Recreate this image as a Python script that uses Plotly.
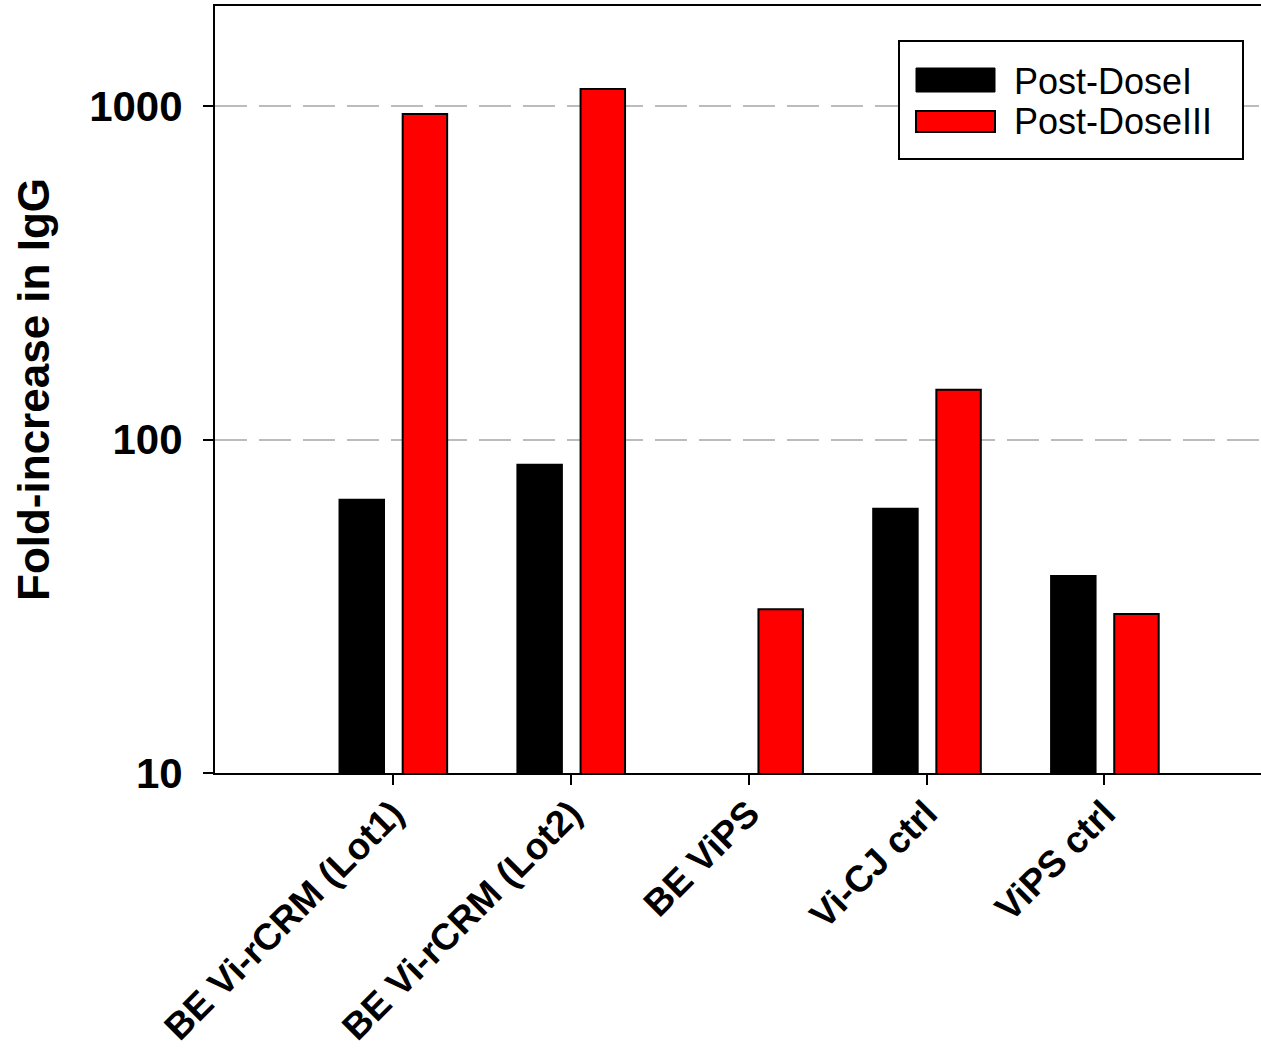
import plotly.graph_objects as go

# Fold-increase in IgG per vaccine group
groups = ["BE Vi-rCRM (Lot1)", "BE Vi-rCRM (Lot2)", "BE ViPS", "Vi-CJ ctrl", "ViPS ctrl"]
post_dose_1 = [66, 84, None, 62, 39]
post_dose_3 = [946, 1125, 31, 141, 30]
y_ticks = [10, 100, 1000]
y_tick_text = ["10", "100", "1000"]

FONT = "Liberation Sans, Arial, sans-serif"
W, H = 1261, 1053
M_L, M_R, M_T, M_B = 215, 0, 6, 280
PW, PH = W - M_L - M_R, H - M_T - M_B


def px_x(x):
    return (x - M_L) / PW


def px_y(y):
    return (H - M_B - y) / PH


fig = go.Figure()
fig.add_trace(go.Bar(
    x=groups, y=post_dose_1, name="Post-DoseI",
    marker=dict(color="#000000", line=dict(color="#000000", width=2)),
    width=0.25, offset=-0.30,
))
fig.add_trace(go.Bar(
    x=groups, y=post_dose_3, name="Post-DoseIII",
    marker=dict(color="#ff0000", line=dict(color="#000000", width=2)),
    width=0.25, offset=0.055,
))

fig.update_layout(
    width=W, height=H,
    margin=dict(l=M_L, r=M_R, t=M_T, b=M_B, autoexpand=False),
    paper_bgcolor="white", plot_bgcolor="white",
    showlegend=False,
    font=dict(family=FONT, color="black"),
)

fig.update_xaxes(
    type="category",
    range=[-1, 4.88],
    automargin=False,
    showline=True, linecolor="black", linewidth=2, mirror=True,
    ticks="outside", ticklen=10, tickwidth=2, tickcolor="black",
    tickangle=-45,
    tickfont=dict(family=FONT, size=37, color="black", weight="bold"),
    ticklabelstandoff=-8,
    showgrid=False,
)

fig.update_yaxes(
    type="log",
    range=[1, 3.3],
    automargin=False,
    tickvals=y_ticks, ticktext=y_tick_text,
    showline=True, linecolor="black", linewidth=2,
    ticks="outside", ticklen=10, tickwidth=2, tickcolor="black",
    tickfont=dict(family=FONT, size=42, color="black", weight="bold"),
    ticklabelstandoff=12,
    showgrid=True, gridcolor="#bcbcbc", gridwidth=2, griddash="32px,12px",
    title=dict(text="Fold-increase in IgG", standoff=26,
               font=dict(family=FONT, size=44, color="black", weight="bold")),
)

# Legend box drawn in paper coordinates
shapes = [
    dict(type="rect", xref="paper", yref="paper",
         x0=px_x(899), x1=px_x(1243), y0=px_y(159), y1=px_y(41),
         line=dict(color="black", width=2), fillcolor="white", layer="above"),
    dict(type="rect", xref="paper", yref="paper",
         x0=px_x(916), x1=px_x(995), y0=px_y(92), y1=px_y(68),
         line=dict(color="black", width=1), fillcolor="#000000", layer="above"),
    dict(type="rect", xref="paper", yref="paper",
         x0=px_x(916), x1=px_x(995), y0=px_y(132), y1=px_y(111),
         line=dict(color="black", width=2), fillcolor="#ff0000", layer="above"),
]
annotations = [
    dict(text="Post-DoseI", xref="paper", yref="paper",
         x=px_x(1012), y=px_y(81), xanchor="left", yanchor="middle",
         showarrow=False, font=dict(family=FONT, size=36, color="black")),
    dict(text="Post-DoseIII", xref="paper", yref="paper",
         x=px_x(1012), y=px_y(122), xanchor="left", yanchor="middle",
         showarrow=False, font=dict(family=FONT, size=36, color="black")),
]
fig.update_layout(shapes=shapes, annotations=annotations)

fig.write_html("out.html")
